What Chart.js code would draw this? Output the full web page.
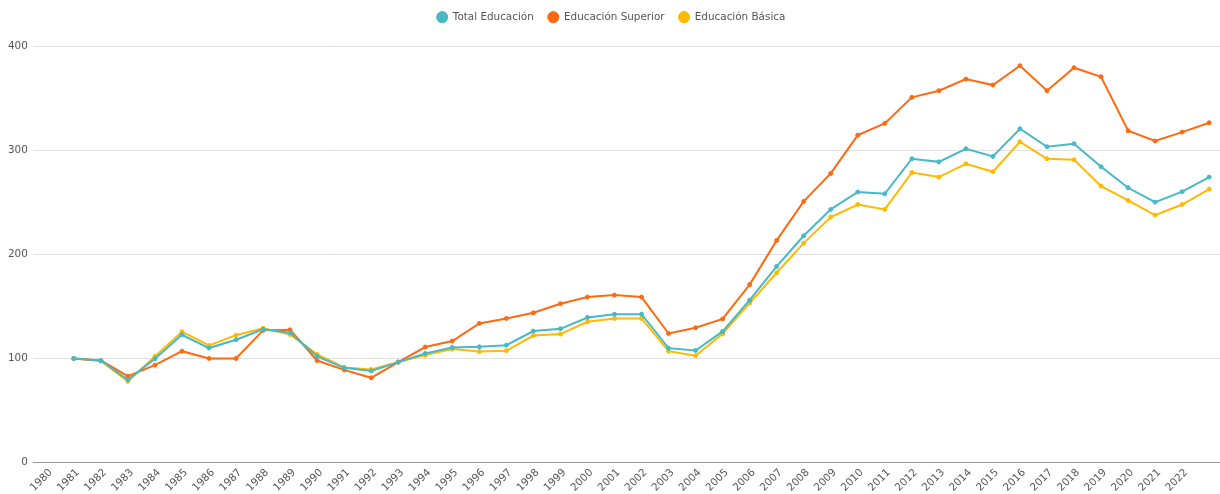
<!DOCTYPE html>
<html>
<head>
<meta charset="utf-8">
<script src="https://cdn.jsdelivr.net/npm/chart.js@4"></script>
<style>
  html, body { margin: 0; padding: 0; background: #fff; }
  #wrap { width: 1220px; height: 494px; }
</style>
</head>
<body>
<div id="wrap"><canvas id="c"></canvas></div>
<script>
const years = [];
for (let y = 1980; y <= 2022; y++) years.push(y);

const totalEducacion = [
  100, 98, 79.5, 99.7, 122.8, 110, 118, 128, 124.7, 102,
  91, 88, 96.5, 104.8, 110.6, 111.2, 112.8, 126.3, 128.5, 139.4,
  142.6, 142.6, 109.9, 107.7, 126, 156, 188.5, 218, 243.3, 260,
  258.3, 292, 289, 301.6, 294.2, 320.8, 303.5, 306.4, 284.3, 264.1,
  250.3, 260.3, 274.4
];
const educacionSuperior = [
  100, 98, 83, 93.6, 107, 100, 100, 127, 127.5, 98,
  89, 81.4, 96.5, 111, 116.7, 133.7, 138.5, 143.9, 152.6, 159,
  160.9, 159, 124, 129.5, 138, 171, 213.5, 251, 277.9, 314.7,
  326, 351, 357.4, 368.6, 362.8, 381.4, 357.4, 379.5, 370.8, 318.9,
  309, 317.6, 326.6
];
const educacionBasica = [
  100, 97.5, 78, 102, 125.7, 112.5, 122.4, 129, 123, 104,
  91.3, 89.4, 96.5, 103.2, 109, 106.7, 107.4, 122, 123.4, 135.3,
  138.5, 138.5, 107, 102.6, 123.7, 153.2, 182.4, 210.9, 235.9, 248,
  243.3, 278.8, 274.4, 287.2, 279.5, 308.3, 292, 291, 265.7, 251.9,
  237.8, 248, 262.8
];
const yTicks = [0, 100, 200, 300, 400];

const FONT = "'DejaVu Sans', Verdana, sans-serif";

function series(label, data, color) {
  return {
    label: label,
    data: data,
    borderColor: color,
    backgroundColor: color,
    pointBackgroundColor: color,
    pointBorderColor: color,
    borderWidth: 2,
    pointRadius: 2,
    pointBorderWidth: 1,
    tension: 0,
    fill: false
  };
}

// push the plot area down below the legend
const legendGap = {
  id: 'legendGap',
  beforeInit(chart) {
    const fit = chart.legend.fit;
    chart.legend.fit = function () {
      fit.bind(chart.legend)();
      this.height += 14;
    };
  }
};

new Chart(document.getElementById('c'), {
  type: 'line',
  data: {
    labels: years,
    datasets: [
      series('Total Educación', totalEducacion, '#47b9c6'),
      series('Educación Superior', educacionSuperior, '#ff6a10'),
      series('Educación Básica', educacionBasica, '#ffb901')
    ]
  },
  options: {
    responsive: true,
    maintainAspectRatio: false,
    animation: false,
    layout: { autoPadding: false, padding: { left: 2, right: 0, top: -2, bottom: -4 } },
    plugins: {
      legend: {
        display: true,
        position: 'top',
        labels: {
          usePointStyle: true,
          pointStyle: 'circle',
          boxHeight: 8,
          pointStyleWidth: 11,
          padding: 14,
          color: '#555',
          font: { family: FONT, size: 10.4 }
        }
      },
      tooltip: { enabled: false }
    },
    scales: {
      x: {
        type: 'linear',
        min: 1978.52,
        max: 2022.4,
        afterBuildTicks(axis) {
          axis.ticks = years.map(v => ({ value: v }));
        },
        afterFit(axis) {
          axis.paddingRight = 0;
        },
        grid: { display: false, drawTicks: false },
        border: { display: true, color: '#999', width: 1 },
        ticks: {
          autoSkip: false,
          minRotation: 45,
          maxRotation: 45,
          padding: 4,
          labelOffset: -23,
          color: '#555',
          font: { family: FONT, size: 10.4 },
          callback: v => String(v)
        }
      },
      y: {
        min: 0,
        max: 400,
        afterBuildTicks(axis) {
          axis.ticks = yTicks.map(v => ({ value: v }));
        },
        grid: { color: '#e0e0e0', drawTicks: false, lineWidth: 1 },
        border: { display: false },
        ticks: {
          padding: 6,
          color: '#555',
          font: { family: FONT, size: 10.4 }
        }
      }
    }
  },
  plugins: [legendGap]
});
</script>
</body>
</html>
